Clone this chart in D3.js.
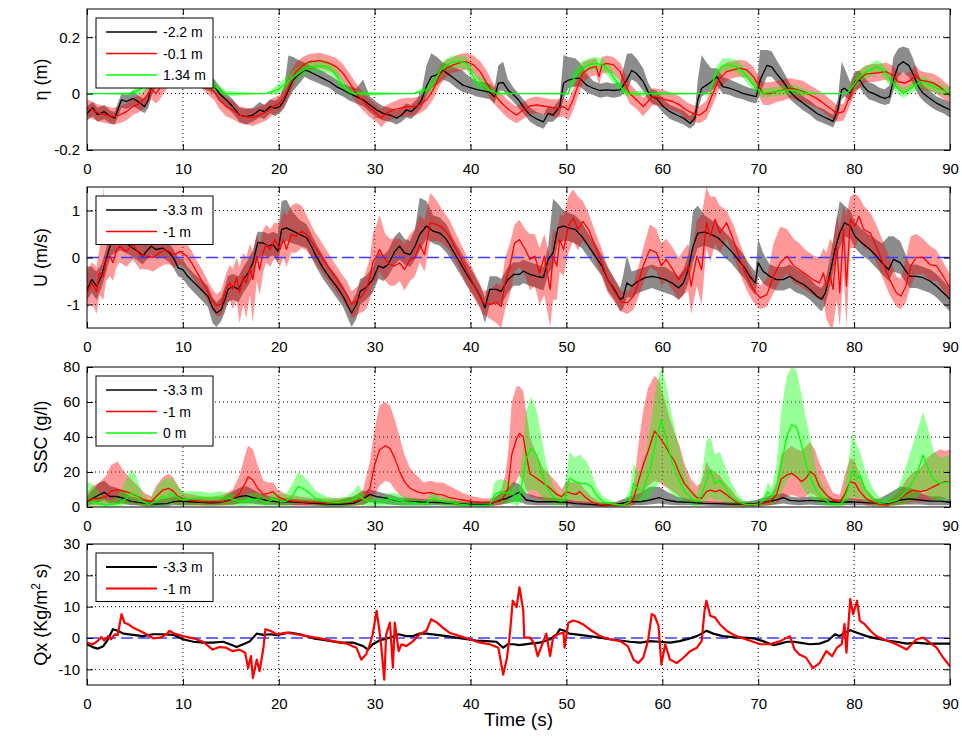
<!DOCTYPE html>
<html>
<head>
<meta charset="utf-8">
<script src="https://cdn.jsdelivr.net/npm/d3@7"></script>
<style>
  body { margin: 0; background: #fff; }
  svg { font-family: "Liberation Sans", Arial, Helvetica, sans-serif; }
</style>
</head>
<body>
<svg id="chart" width="962" height="744"></svg>
<script>
//
// data: [t, value, bandLow, bandHigh]
var etaBlack = [[0,-0.07,-0.095,-0.045],[0.6,-0.05,-0.08,-0.03],[1.1,-0.075,-0.1,-0.05],[1.8,-0.064,-0.09,-0.04],[2.4,-0.08,-0.105,-0.06],[2.9,-0.087,-0.11,-0.065],[3.2,-0.058,-0.085,-0.035],[3.6,-0.022,-0.05,0],[4.1,-0.028,-0.055,-0.005],[4.8,-0.017,-0.045,0.01],[5.3,-0.028,-0.055,-0.005],[6,-0.046,-0.07,-0.02],[6.4,-0.022,-0.05,0.01],[6.7,0.025,-0.01,0.06],[7.5,0.07,0.04,0.1],[9,0.09,0.06,0.12],[10.5,0.07,0.04,0.1],[12,0.045,0.02,0.075],[13.3,0.025,0,0.05],[13.8,0,-0.025,0.025],[14.5,-0.022,-0.045,0],[15.2,-0.046,-0.07,-0.02],[15.9,-0.076,-0.1,-0.05],[16.6,-0.082,-0.11,-0.055],[17.3,-0.076,-0.1,-0.05],[18,-0.058,-0.085,-0.03],[18.5,-0.064,-0.09,-0.04],[19.1,-0.046,-0.07,-0.02],[19.6,-0.052,-0.08,-0.025],[20.1,-0.046,-0.07,-0.015],[20.6,-0.022,-0.05,0.03],[21,0.013,-0.02,0.135],[21.5,0.048,0.01,0.13],[22,0.066,0.03,0.12],[22.7,0.084,0.06,0.11],[23.2,0.078,0.05,0.1],[23.9,0.066,0.04,0.09],[24.6,0.054,0.03,0.08],[25.3,0.042,0.02,0.065],[26,0.025,0,0.05],[26.7,0.013,-0.01,0.035],[27.4,0,-0.025,0.025],[28.1,-0.011,-0.035,0.02],[28.8,-0.022,-0.045,0.05],[29.5,-0.04,-0.065,-0.01],[30.2,-0.058,-0.085,-0.03],[30.9,-0.07,-0.095,-0.045],[31.6,-0.076,-0.1,-0.05],[32.3,-0.087,-0.11,-0.06],[32.8,-0.076,-0.1,-0.05],[33.3,-0.058,-0.085,-0.035],[33.8,-0.064,-0.09,-0.04],[34.4,-0.046,-0.07,-0.02],[34.9,-0.022,-0.05,0.01],[35.4,0.025,-0.01,0.1],[35.9,0.06,0.02,0.143],[36.5,0.066,0.03,0.13],[37.1,0.084,0.05,0.11],[37.8,0.066,0.04,0.1],[38.5,0.048,0.02,0.09],[39.2,0.03,0.005,0.08],[39.9,0.022,0,0.06],[40.6,0.015,-0.01,0.045],[41.3,0.01,-0.015,0.04],[42,0.004,-0.02,0.035],[42.5,-0.011,-0.035,0.02],[42.9,0.037,0.01,0.1],[43.4,0.039,0.01,0.113],[43.9,0.013,-0.01,0.05],[44.5,-0.005,-0.03,0.02],[45,-0.022,-0.05,0],[45.5,-0.046,-0.07,-0.02],[46.2,-0.076,-0.1,-0.05],[46.9,-0.09,-0.115,-0.065],[47.6,-0.1,-0.125,-0.075],[48.1,-0.07,-0.1,-0.045],[48.6,-0.076,-0.1,-0.05],[49.3,-0.046,-0.075,-0.02],[49.7,0.037,-0.02,0.137],[50.2,0.048,0.02,0.13],[50.9,0.054,0.025,0.125],[51.4,0.054,0.025,0.11],[52.1,0.03,0.005,0.07],[52.8,0.019,-0.005,0.045],[53.5,0.011,-0.015,0.035],[54.2,0.013,-0.01,0.04],[54.9,0.011,-0.015,0.035],[55.6,0.013,-0.01,0.04],[56.3,0.048,0.01,0.14],[56.8,0.082,0.05,0.143],[57.3,0.072,0.04,0.125],[58,0.043,0.01,0.09],[58.5,0.007,-0.02,0.04],[58.9,-0.011,-0.035,0.015],[59.4,-0.017,-0.04,0.01],[60.1,-0.046,-0.07,-0.02],[60.8,-0.064,-0.09,-0.04],[61.5,-0.076,-0.1,-0.05],[62.2,-0.087,-0.11,-0.06],[62.9,-0.105,-0.125,-0.08],[63.4,-0.087,-0.11,-0.06],[63.7,-0.022,-0.06,0.05],[64.1,0.019,-0.01,0.137],[64.6,0.03,0,0.11],[65.1,0.042,0.01,0.09],[65.7,0.06,0.03,0.09],[66.3,0.025,0,0.06],[67,0.019,-0.005,0.05],[67.7,0.011,-0.015,0.04],[68.4,0.001,-0.02,0.03],[69.1,-0.005,-0.03,0.02],[69.8,-0.011,-0.035,0.015],[70.2,0.048,0,0.155],[70.9,0.1,0.06,0.155],[71.4,0.095,0.06,0.15],[71.9,0.072,0.04,0.12],[72.6,0.043,0.015,0.08],[73.3,0.007,-0.02,0.035],[74,-0.017,-0.04,0.01],[74.7,-0.034,-0.06,-0.01],[75.4,-0.052,-0.075,-0.025],[76.1,-0.07,-0.095,-0.045],[76.8,-0.082,-0.105,-0.055],[77.5,-0.093,-0.115,-0.07],[77.8,-0.099,-0.12,-0.075],[78.3,-0.058,-0.085,-0.02],[78.7,0.013,-0.02,0.113],[79,0.019,-0.01,0.09],[79.6,0.001,-0.025,0.04],[80.1,0.043,0.01,0.08],[80.6,0.048,0.02,0.08],[81,0.025,0,0.06],[81.5,0.007,-0.02,0.04],[82,0.001,-0.025,0.035],[82.7,-0.011,-0.035,0.02],[83.2,-0.017,-0.04,0.015],[83.7,-0.011,-0.035,0.03],[84.1,0.048,0.01,0.13],[84.6,0.1,0.06,0.16],[85.1,0.113,0.075,0.167],[85.7,0.1,0.06,0.16],[86.2,0.066,0.03,0.12],[86.7,0.025,-0.005,0.07],[87.2,0.001,-0.025,0.03],[87.9,-0.017,-0.045,0.01],[88.6,-0.034,-0.06,-0.01],[89.3,-0.046,-0.07,-0.02],[90,-0.058,-0.085,-0.03]];

var etaRed = [[0,-0.052,-0.08,-0.02],[0.6,-0.058,-0.09,-0.03],[1.3,-0.07,-0.1,-0.04],[2,-0.076,-0.105,-0.045],[2.7,-0.082,-0.11,-0.05],[3.4,-0.076,-0.105,-0.045],[4.1,-0.064,-0.095,-0.035],[4.8,-0.046,-0.075,-0.015],[5.5,-0.034,-0.065,-0.005],[6.2,-0.01,-0.045,0.02],[6.7,0.015,-0.02,0.045],[7.2,0,-0.035,0.03],[7.6,0.02,-0.02,0.06],[9,0.08,0.05,0.11],[11,0.08,0.05,0.11],[12.5,0.03,0,0.06],[13.3,0.005,-0.025,0.035],[13.8,-0.022,-0.055,0.01],[14.5,-0.046,-0.08,-0.015],[15.2,-0.058,-0.09,-0.025],[15.9,-0.076,-0.105,-0.045],[16.6,-0.082,-0.11,-0.05],[17.3,-0.085,-0.115,-0.055],[18,-0.076,-0.105,-0.045],[18.7,-0.064,-0.095,-0.035],[19.4,-0.046,-0.075,-0.015],[20.1,-0.034,-0.065,-0.005],[20.6,-0.01,-0.04,0.025],[21.1,0.03,-0.005,0.07],[21.8,0.078,0.045,0.11],[22.5,0.1,0.07,0.13],[23.2,0.113,0.085,0.14],[24.3,0.117,0.09,0.145],[25.3,0.107,0.08,0.135],[26,0.095,0.065,0.125],[26.7,0.072,0.04,0.105],[27.4,0.037,0.005,0.07],[28.1,0,-0.035,0.035],[28.8,-0.028,-0.06,0.005],[29.5,-0.052,-0.085,-0.02],[30.2,-0.07,-0.1,-0.04],[30.7,-0.087,-0.12,-0.055],[31.2,-0.07,-0.1,-0.04],[31.9,-0.058,-0.09,-0.03],[32.6,-0.052,-0.085,-0.02],[33.3,-0.046,-0.08,-0.015],[34,-0.046,-0.08,-0.015],[34.7,-0.04,-0.07,-0.01],[35.4,-0.022,-0.055,0.01],[36.1,0.013,-0.02,0.05],[36.8,0.066,0.03,0.1],[37.5,0.09,0.06,0.12],[38.2,0.102,0.075,0.13],[38.9,0.11,0.08,0.14],[39.6,0.113,0.085,0.145],[40.3,0.102,0.07,0.135],[41,0.078,0.04,0.115],[41.7,0.037,0,0.08],[42.4,0,-0.035,0.035],[43.1,-0.028,-0.06,0.005],[43.8,-0.052,-0.085,-0.02],[44.5,-0.07,-0.1,-0.04],[44.8,-0.076,-0.105,-0.045],[45.5,-0.058,-0.09,-0.03],[46.2,-0.044,-0.075,-0.015],[46.9,-0.04,-0.07,-0.01],[47.6,-0.044,-0.075,-0.015],[48.3,-0.048,-0.08,-0.02],[49,-0.052,-0.085,-0.02],[49.7,-0.046,-0.08,-0.015],[50.2,-0.058,-0.095,-0.025],[50.7,-0.022,-0.06,0.015],[51.2,0.03,-0.01,0.07],[51.7,0.072,0.035,0.11],[52.4,0.09,0.06,0.12],[53.1,0.096,0.065,0.125],[53.4,0.06,0.03,0.1],[53.7,0.102,0.07,0.13],[54.2,0.107,0.075,0.135],[54.9,0.102,0.07,0.13],[55.6,0.078,0.045,0.11],[56.1,0.037,0,0.075],[56.6,0,-0.035,0.035],[57.3,-0.022,-0.055,0.01],[58,-0.046,-0.08,-0.015],[58.5,-0.028,-0.06,0],[59,-0.01,-0.04,0.02],[59.7,-0.016,-0.045,0.015],[60.4,-0.022,-0.05,0.01],[61.1,-0.028,-0.06,0],[61.8,-0.04,-0.07,-0.01],[62.5,-0.058,-0.09,-0.03],[63.2,-0.07,-0.1,-0.04],[63.9,-0.076,-0.105,-0.045],[64.6,-0.058,-0.09,-0.025],[65,-0.022,-0.06,0.015],[65.5,0.019,-0.02,0.06],[66,0.054,0.02,0.09],[66.7,0.078,0.045,0.11],[67.4,0.084,0.055,0.115],[68.1,0.09,0.06,0.12],[68.8,0.084,0.055,0.115],[69.5,0.06,0.025,0.095],[70,0.03,-0.005,0.065],[70.5,0,-0.04,0.04],[71.2,0,-0.04,0.04],[71.9,0.007,-0.03,0.045],[72.6,0.013,-0.025,0.05],[73.3,0.019,-0.015,0.055],[74,0.015,-0.02,0.05],[74.7,0.007,-0.03,0.045],[75.4,-0.005,-0.04,0.03],[76.1,-0.017,-0.05,0.015],[76.8,-0.034,-0.065,0],[77.5,-0.052,-0.085,-0.02],[78.2,-0.07,-0.1,-0.04],[78.9,-0.064,-0.095,-0.035],[79.4,-0.022,-0.055,0.01],[79.9,0.019,-0.015,0.055],[80.4,0.048,0.015,0.08],[81.2,0.069,0.04,0.1],[81.9,0.072,0.04,0.105],[82.6,0.074,0.045,0.105],[83.3,0.078,0.05,0.11],[84,0.066,0.035,0.1],[84.6,0.042,0.01,0.075],[85.3,0.037,0.005,0.07],[85.9,0.048,0.015,0.08],[86.4,0.066,0.035,0.1],[86.9,0.048,0.015,0.08],[87.6,0.043,0.01,0.075],[88.3,0.037,0.005,0.07],[89,0.022,-0.01,0.055],[90,-0.005,-0.035,0.025]];

var etaGreen = [[0,0,0,0],[4.5,0,-0.005,0.005],[5.5,0.015,-0.005,0.035],[7,0.05,0.03,0.07],[9,0.09,0.07,0.11],[11,0.08,0.06,0.1],[13.3,0.025,0.005,0.045],[14.5,0,-0.01,0.01],[18.7,0,0,0],[19.8,0.013,-0.005,0.03],[20.8,0.037,0.015,0.06],[21.8,0.066,0.045,0.09],[22.9,0.09,0.07,0.115],[23.9,0.098,0.075,0.12],[25,0.096,0.075,0.12],[25.7,0.078,0.055,0.1],[26.4,0.043,0.02,0.065],[27.1,0.013,-0.005,0.03],[27.8,0,-0.01,0.01],[34,0,0,0],[35.4,0.013,-0.005,0.03],[36.1,0.037,0.015,0.06],[36.8,0.078,0.055,0.1],[37.5,0.102,0.08,0.125],[38.2,0.113,0.09,0.135],[38.9,0.113,0.09,0.135],[39.6,0.107,0.085,0.13],[40.1,0.072,0.05,0.095],[40.6,0.043,0.02,0.065],[41.3,0.031,0.01,0.055],[42,0.013,-0.005,0.03],[42.7,0.001,-0.01,0.01],[44.5,0,0,0],[50.2,0,-0.005,0.005],[50.5,0.037,0.015,0.06],[51,0.066,0.045,0.09],[51.6,0.09,0.065,0.115],[52.3,0.102,0.08,0.125],[53.1,0.107,0.085,0.13],[53.8,0.102,0.08,0.125],[54.5,0.078,0.055,0.1],[55.2,0.043,0.02,0.065],[55.9,0.013,-0.005,0.03],[56.4,0,-0.01,0.01],[65,0,0,0],[65.1,0.025,0.005,0.045],[65.7,0.078,0.055,0.1],[66.3,0.1,0.08,0.125],[67,0.1,0.08,0.125],[67.7,0.096,0.075,0.12],[68.4,0.078,0.055,0.1],[69.1,0.048,0.025,0.07],[69.8,0.019,0,0.04],[70.5,0.001,-0.015,0.02],[71.2,0.004,-0.012,0.02],[71.9,0.007,-0.01,0.025],[73,0.013,-0.005,0.03],[74,0.011,-0.005,0.03],[75,0.001,-0.01,0.012],[76.1,0,0,0],[79.2,0,0,0],[79.6,0.013,-0.005,0.03],[80.3,0.048,0.025,0.07],[81,0.072,0.05,0.095],[81.7,0.084,0.06,0.105],[82.4,0.096,0.075,0.12],[83,0.084,0.06,0.105],[83.7,0.054,0.03,0.075],[84.4,0.025,0.005,0.045],[85.1,0.001,-0.015,0.02],[85.7,0.013,-0.005,0.03],[86.4,0.031,0.01,0.05],[87.1,0.043,0.02,0.065],[87.9,0.031,0.01,0.05],[88.6,0.019,0,0.04],[89.3,0.011,-0.005,0.03],[90,0.001,-0.015,0.02]];

var uBlack = [[0,-0.68,-0.9,-0.18],[0.5,-0.47,-0.75,-0.2],[1,-0.61,-0.9,-0.3],[1.5,-0.4,-0.65,-0.15],[1.8,-0.18,-0.45,0.05],[2.2,0.1,-0.15,0.35],[2.5,0.31,0.05,0.55],[3.5,0.4,0.15,0.65],[4.5,0.24,0.05,0.5],[5,0.17,-0.02,0.4],[5.5,0.1,-0.1,0.3],[5.8,0.03,-0.15,0.25],[6.2,0.13,-0.05,0.35],[6.7,0.24,0.05,0.45],[7.2,0.17,-0.02,0.4],[7.9,0.2,0,0.42],[8.6,0.1,-0.1,0.3],[9.1,-0.04,-0.25,0.15],[9.5,-0.22,-0.4,0],[10,-0.26,-0.45,-0.05],[10.5,-0.4,-0.6,-0.2],[11.2,-0.54,-0.75,-0.35],[11.9,-0.68,-0.9,-0.48],[12.6,-0.82,-1.05,-0.6],[13.1,-1.07,-1.4,-0.85],[13.5,-1.18,-1.48,-0.95],[14,-1.11,-1.35,-0.85],[14.4,-0.89,-1.15,-0.6],[14.7,-0.68,-0.95,-0.4],[15.2,-0.61,-0.9,-0.35],[15.8,-0.68,-0.95,-0.4],[16.3,-0.47,-0.75,-0.2],[16.8,-0.33,-0.6,-0.05],[17.3,-0.11,-0.4,0.15],[17.8,0.31,0,0.55],[18.4,0.31,0.05,0.55],[18.9,0.24,0,0.5],[19.4,0.28,0.05,0.55],[19.9,0.13,-0.1,0.5],[20.3,0.6,0.3,1.2],[20.8,0.63,0.35,1.23],[21.5,0.56,0.3,0.95],[22.2,0.49,0.25,0.8],[22.9,0.42,0.2,0.7],[23.4,0.24,0,0.5],[23.9,0.03,-0.2,0.3],[24.6,-0.22,-0.45,0.05],[25.3,-0.43,-0.65,-0.2],[26,-0.61,-0.85,-0.38],[26.7,-0.82,-1.05,-0.6],[27.2,-1.03,-1.3,-0.8],[27.6,-1.18,-1.48,-0.95],[28.1,-1,-1.3,-0.75],[28.5,-0.72,-1,-0.45],[29.1,-0.64,-0.9,-0.4],[29.8,-0.47,-0.75,-0.2],[30.4,-0.18,-0.45,0.1],[30.9,-0.22,-0.5,0.05],[31.4,-0.15,-0.4,0.15],[32.1,0.13,-0.15,0.45],[32.6,0.24,-0.05,0.55],[33.1,0.1,-0.15,0.4],[33.7,0.06,-0.2,0.35],[34.2,0.24,-0.05,0.6],[34.7,0.49,0.15,1.27],[35.4,0.67,0.4,1.2],[36.1,0.56,0.3,0.9],[36.8,0.52,0.25,0.85],[37.5,0.38,0.1,0.7],[38.2,0.13,-0.12,0.4],[38.9,-0.11,-0.35,0.15],[39.6,-0.36,-0.6,-0.1],[40.3,-0.57,-0.8,-0.33],[41,-0.82,-1.05,-0.6],[41.5,-1.07,-1.4,-0.85],[42,-0.68,-1,-0.4],[42.7,-0.68,-0.95,-0.4],[43.2,-0.72,-1,-0.45],[43.9,-0.47,-0.75,-0.2],[44.5,-0.36,-0.6,-0.1],[45.1,-0.36,-0.6,-0.1],[45.5,-0.29,-0.55,-0.05],[46.2,-0.36,-0.6,-0.1],[46.9,-0.4,-0.65,-0.15],[47.6,-0.43,-0.7,-0.2],[48.1,-0.04,-0.35,0.25],[48.6,0.1,-0.2,1.25],[49.1,0.63,0.3,1.15],[49.7,0.67,0.35,1],[50.2,0.63,0.35,0.95],[50.9,0.6,0.3,0.9],[51.6,0.45,0.2,0.75],[52.3,0.24,0,0.5],[53,0.03,-0.2,0.3],[53.7,-0.18,-0.4,0.05],[54.3,-0.47,-0.7,-0.2],[55,-0.68,-0.9,-0.45],[55.6,-0.89,-1.15,-0.65],[55.9,-0.86,-1.1,-0.4],[56.3,-0.54,-0.85,0.05],[56.8,-0.61,-0.85,-0.3],[57.5,-0.5,-0.75,-0.25],[58.2,-0.43,-0.7,-0.2],[58.9,-0.4,-0.65,-0.15],[59.6,-0.43,-0.7,-0.2],[60.3,-0.47,-0.75,-0.2],[61,-0.54,-0.8,-0.3],[61.7,-0.65,-0.9,-0.4],[62.2,-0.54,-0.8,-0.25],[62.7,-0.26,-0.55,0.05],[63.2,0.24,-0.1,1],[63.7,0.52,0.2,1.1],[64.4,0.54,0.25,0.9],[65.1,0.49,0.2,0.8],[65.8,0.42,0.15,0.7],[66.5,0.28,0,0.55],[67.2,0.13,-0.12,0.4],[67.9,-0.04,-0.3,0.22],[68.6,-0.22,-0.45,0.02],[69.1,-0.4,-0.65,-0.15],[69.7,-0.54,-0.8,-0.3],[70,-0.11,-0.4,0.4],[70.5,-0.29,-0.55,0.1],[71.2,-0.4,-0.65,-0.15],[71.9,-0.47,-0.7,-0.2],[72.6,-0.47,-0.7,-0.2],[73.3,-0.4,-0.65,-0.15],[74,-0.5,-0.75,-0.25],[74.7,-0.57,-0.8,-0.33],[75.4,-0.68,-0.9,-0.45],[76.1,-0.82,-1.05,-0.6],[76.6,-0.89,-1.15,-0.65],[77,-0.75,-1,-0.5],[77.5,-0.33,-0.6,0],[78,0.17,-0.15,0.6],[78.5,0.52,0.2,1.2],[79,0.74,0.45,1.1],[79.6,0.67,0.4,1],[80.1,0.45,0.2,0.75],[80.8,0.31,0.05,0.6],[81.5,0.2,-0.05,0.5],[82.2,0.06,-0.2,0.4],[82.9,-0.11,-0.35,0.3],[83.6,-0.26,-0.5,0.45],[84.1,-0.04,-0.3,0.45],[84.8,-0.11,-0.35,0.35],[85.3,-0.26,-0.5,0.1],[85.8,-0.4,-0.65,-0.15],[86.5,-0.4,-0.65,-0.15],[87.2,-0.43,-0.7,-0.2],[87.9,-0.5,-0.75,-0.25],[88.6,-0.61,-0.85,-0.35],[89.3,-0.75,-1,-0.5],[90,-0.89,-1.15,-0.65]];

var uRed = [[0,-0.75,-1.1,-0.3],[0.5,-0.54,-0.95,-0.1],[1,-0.72,-1.2,-0.2],[1.3,-0.33,-0.8,0.2],[1.7,-0.4,-0.9,1.5],[2,-0.04,-0.5,0.4],[2.4,0.03,-0.4,0.5],[2.7,-0.11,-0.5,0.4],[3.1,0.17,-0.2,0.6],[3.4,0.24,-0.1,0.6],[4.1,0.13,-0.2,0.5],[4.8,0.28,-0.05,0.6],[5.5,0.06,-0.25,0.4],[6.2,0.03,-0.25,0.35],[6.9,0,-0.3,0.3],[7.6,0.1,-0.2,0.4],[8.1,0.17,-0.15,0.45],[8.6,0.13,-0.15,0.4],[9.1,0.06,-0.2,0.35],[9.7,0.13,-0.15,0.4],[10.4,0.03,-0.25,0.3],[10.9,-0.11,-0.4,0.15],[11.4,-0.29,-0.55,-0.05],[11.9,-0.47,-0.7,-0.22],[12.5,-0.68,-0.9,-0.45],[13,-0.89,-1.1,-0.65],[13.5,-1.02,-1.25,-0.78],[14,-1,-1.25,-0.7],[14.5,-0.68,-1,-0.35],[14.9,-0.54,-0.9,-0.15],[15.2,-0.68,-1.1,-0.25],[15.6,-0.43,-0.9,0],[15.9,-0.75,-1.4,-0.2],[16.3,-0.4,-1,0.1],[16.6,-0.54,-1.3,0],[17,-0.22,-0.8,0.3],[17.3,-0.47,-1.4,0.1],[17.7,0.03,-0.5,0.5],[18,-0.26,-0.8,0.3],[18.4,0.13,-0.3,0.6],[18.7,0.28,-0.1,0.7],[19.1,0.17,-0.2,0.6],[19.6,0.38,0,0.75],[20.1,0.17,-0.2,0.7],[20.5,0.38,0,1],[20.8,0.17,-0.2,0.9],[21.3,0.49,0.1,1.1],[21.8,0.45,0.1,1.16],[22.4,0.56,0.2,1.1],[22.9,0.49,0.15,0.9],[23.6,0.28,-0.05,0.6],[24.3,0.06,-0.25,0.38],[25,-0.15,-0.45,0.15],[25.7,-0.36,-0.65,-0.08],[26.4,-0.57,-0.85,-0.3],[27.1,-0.79,-1.05,-0.5],[27.6,-1,-1.3,-0.72],[28.3,-0.89,-1.2,-0.6],[28.8,-0.79,-1.15,-0.45],[29.1,-0.68,-1.1,-0.3],[29.5,-0.43,-0.9,0],[29.8,-0.11,-0.6,0.5],[30.2,0.03,-0.5,0.7],[30.5,0.17,-0.3,0.9],[31.1,-0.04,-0.5,0.5],[31.6,-0.15,-0.6,0.4],[32.1,-0.18,-0.6,0.4],[32.6,-0.11,-0.5,0.4],[33.1,-0.26,-0.7,0.3],[33.7,-0.04,-0.5,0.5],[34.2,0,-0.4,0.6],[34.7,0.28,-0.1,0.9],[35.2,0.06,-0.3,0.8],[35.8,0.74,0.35,1.38],[36.5,0.7,0.35,1.2],[37.1,0.63,0.3,1],[37.8,0.45,0.15,0.8],[38.5,0.17,-0.12,0.5],[39.2,-0.11,-0.4,0.2],[39.9,-0.4,-0.7,-0.1],[40.6,-0.68,-0.95,-0.4],[41.3,-0.96,-1.2,-0.7],[42,-1,-1.3,-0.7],[42.7,-0.96,-1.4,-0.55],[43.2,-1.04,-1.5,-0.6],[43.6,-0.54,-1.1,0],[44.1,-0.18,-0.8,0.3],[44.6,0.31,-0.3,0.7],[45.1,0.38,-0.2,0.8],[45.7,0.17,-0.4,0.6],[46.2,-0.04,-0.7,0.5],[46.7,0.03,-0.6,0.5],[47.2,-0.33,-1,0.2],[47.7,0.03,-0.8,0.5],[48.3,-0.68,-1.48,0],[48.6,0.03,-0.9,0.6],[49,-0.18,-0.9,0.5],[49.3,0.38,-0.3,0.9],[49.7,0.17,-0.4,0.9],[50.2,0.67,0.1,1.3],[50.7,0.84,0.35,1.45],[51.2,0.6,0.15,1.3],[51.7,0.77,0.35,1.2],[52.3,0.6,0.25,0.95],[53,0.24,-0.05,0.55],[53.7,-0.11,-0.4,0.18],[54.3,-0.47,-0.75,-0.2],[55,-0.72,-0.95,-0.45],[55.7,-0.95,-1.15,-0.72],[56.4,-0.96,-1.2,-0.72],[57,-0.82,-1.1,-0.55],[57.5,-0.54,-0.85,-0.2],[58,-0.18,-0.55,0.2],[58.7,0.17,-0.2,0.7],[59.4,0.1,-0.3,0.6],[59.9,-0.18,-0.6,0.3],[60.4,-0.04,-0.5,0.4],[61.1,-0.26,-0.7,0.2],[61.7,-0.47,-0.9,0],[62.2,-0.33,-0.8,0.15],[62.7,-0.18,-0.7,0.3],[63,-0.61,-1.2,0],[63.6,0.03,-0.6,0.8],[64.1,-0.26,-1,0.9],[64.6,0.74,0.2,1.5],[65,0.45,-0.1,1.3],[65.5,0.81,0.3,1.3],[66,0.52,0.1,1.1],[66.7,0.74,0.4,1],[67.4,0.38,0.05,0.7],[68.1,-0.04,-0.35,0.3],[68.8,-0.4,-0.7,-0.1],[69.5,-0.68,-0.95,-0.4],[70.2,-0.86,-1.1,-0.6],[70.9,-0.79,-1.05,-0.45],[71.6,-0.4,-0.75,0.3],[72.3,-0.11,-0.5,0.66],[73,0.03,-0.35,0.6],[73.7,-0.18,-0.55,0.4],[74.3,-0.26,-0.6,0.3],[75,-0.36,-0.7,0.15],[75.7,-0.47,-0.8,0.05],[76.4,-0.54,-0.9,0],[76.8,-0.33,-0.9,0.2],[77.1,-0.61,-1.3,0.1],[77.5,-0.4,-1.48,0.4],[77.8,-0.68,-1.48,0.3],[78.2,0.24,-0.9,0.9],[78.5,-0.75,-1.48,0.6],[78.9,0.6,-0.3,1.1],[79.2,-0.61,-1.48,0.9],[79.6,0.81,0.2,1.3],[80.1,0.67,0.2,1.35],[80.5,0.88,0.4,1.3],[81,0.6,0.2,1.1],[81.7,0.52,0.15,0.95],[82.3,0.24,-0.1,0.7],[83,-0.11,-0.45,0.35],[83.7,-0.47,-0.8,0],[84.4,-0.75,-1.05,-0.4],[84.9,-0.82,-1.1,-0.45],[85.4,-0.61,-0.95,0],[85.9,-0.18,-0.6,0.45],[86.5,0,-0.35,0.5],[87.2,0,-0.35,0.4],[87.9,-0.15,-0.5,0.25],[88.6,-0.18,-0.5,0.15],[89.3,-0.4,-0.7,-0.1],[90,-0.65,-0.95,-0.35]];

var sscBlack = [[0,3,1,6],[0.6,5,2,10],[1.3,7,3,14],[1.8,8.4,4,15],[2.4,6,2,12],[3.1,6,2,11],[3.8,5,2,9],[4.5,3.4,1,6],[5.3,2.7,1,5],[6.2,2.1,0.5,4],[7.2,1.7,0.5,4],[8.3,1.9,0.5,5],[9,3,1,6],[9.7,3.4,1,6],[10.7,3,1,5],[11.8,2.7,1,4.5],[12.9,2.3,0.8,4],[13.8,2.5,1,4.5],[14.9,4,1.5,8],[15.9,6,2,11],[16.6,6.5,2,12],[17.3,5.3,2,10],[18,4.6,1.5,8],[19.1,3.4,1,6],[20.1,2.9,1,5],[21.1,3,1,5],[22.2,2.7,1,4.5],[23.6,2.1,0.8,4],[25,1.7,0.5,3.5],[26.4,1.5,0.5,4],[27.8,2.1,0.8,6],[28.8,4.6,1.5,9],[29.5,7.2,3,10],[30.2,5.9,2,9],[30.9,5.3,2,8],[31.6,4.6,1.5,7],[32.6,3.4,1,5.5],[34,3,1,5],[35.4,2.7,1,4.5],[36.8,2.5,1,4],[38.2,2.1,0.8,3.5],[39.6,1.7,0.5,3],[41,1.5,0.5,3],[42,1.7,0.5,3.5],[43.1,4,1.5,8],[43.8,4.9,2,10],[44.5,6.9,3,14.5],[45.1,8.4,3,13],[45.8,4,1.5,8],[46.9,3,1,6],[47.9,3,1,5.5],[48.9,3,1,5],[50,2.7,1,4.5],[51,1.9,0.5,3.5],[52.4,1.5,0.5,3],[53.8,1.1,0.3,2.5],[55.2,1.5,0.5,3],[56.6,3,1,6],[57.7,3,1,8],[58.7,4,1.5,11.6],[59.7,5.3,2,11.6],[60.4,4,1.5,9],[61.5,3,1,6],[62.9,2.7,1,4.5],[64.3,2.1,0.8,3.5],[65.7,1.9,0.5,3],[67,1.7,0.5,3],[68.4,1.7,0.5,3],[69.8,2.1,0.8,4],[70.9,3,1,6],[71.9,4,1.5,7],[72.6,5.3,2,8],[73.3,3.8,1.5,6],[74.3,3.4,1,5.5],[75.4,3.8,1.5,6],[76.4,3.4,1,5.5],[77.5,3,1,5],[78.5,2.7,1,4.5],[79.6,3,1,5],[80.6,2.7,1,4.5],[81.7,2.3,0.8,4],[82.7,2.1,0.8,5],[83.7,2.1,0.8,8],[84.8,4,1.5,11.6],[85.8,4.6,1.5,11],[86.9,4,1.5,8],[87.9,3.4,1,6],[89,3.4,1,6],[90,2.7,1,4.5]];

var sscRed = [[0,3,0.5,8],[0.6,4.6,1,12],[1.3,5,1,14],[2,5.9,1,18],[2.5,9.1,2,24],[3.2,9.9,2,26],[3.9,9.1,2,20],[4.6,7.8,2,16],[5.3,5.9,1,12],[6,4,0.5,8],[6.7,3,0.5,6],[7.2,5.9,1,12],[7.9,9.7,2,17],[8.5,10.7,3,19],[9,9.1,2,17],[9.5,5.9,1,12],[10,4.4,1,8],[11.1,3.6,1,7],[12.1,3,0.8,6],[13.1,3,0.8,6],[14.2,3,0.8,7],[15.2,4.6,1,10],[15.9,7.8,2,18],[16.5,13.5,4,30],[16.8,17.3,6,35],[17.3,15.4,5,33],[17.8,10.7,3,24],[18.4,7.2,2,15],[18.9,7.8,2,14],[19.4,8.8,2,14],[19.9,5.9,1.5,10],[20.8,3.8,1,7],[22.2,3,0.8,6],[23.6,2.7,0.8,5],[25,2.5,0.5,5],[26.4,2.5,0.5,5],[27.8,3,0.8,6],[28.8,4.6,1,10],[29.5,10.7,3,26],[30,24,7,45],[30.5,32.6,12,58],[31.1,35,15,60],[31.6,33.5,14,58],[32.1,27.8,10,50],[32.6,20.2,7,40],[33.1,14.5,5,30],[33.7,10.7,3,22],[34.4,8.8,2.5,18],[35.1,7.8,2,14],[35.8,8.4,2.5,15],[36.5,7.2,2,14],[37.1,6.9,2,14],[37.8,5.3,1.5,12],[38.5,4.6,1,10],[39.2,4,1,8],[40.3,3,0.8,6],[41.3,2.7,0.8,5],[42.4,2.7,0.8,5],[43.1,3.4,1,8],[43.6,6.9,2,18],[43.9,10.7,3,30],[44.3,30,10,60],[44.8,39,15,69],[45.1,42,18,69],[45.5,40,15,66],[45.8,30,10,55],[46.2,19,6,40],[46.9,16.4,5,30],[47.6,13.5,4,22],[48.3,10.7,3,18],[49,7.2,2,14],[49.5,5.9,1.5,10],[50,8.8,2,15],[50.5,7.8,2,14],[51,7.2,2,14],[51.4,8.8,2,14],[51.9,5.9,1.5,10],[52.6,3,0.8,6],[53.5,1.5,0.3,3],[54.5,1.1,0.2,2.5],[55.6,1.1,0.2,2.5],[56.6,2.1,0.5,4],[57,4.9,1,12],[57.5,14.5,4,35],[58,24,8,55],[58.5,31.6,12,68],[59.2,43.4,15,75],[59.7,40,14,72],[60.2,36,12,62],[60.8,30,10,50],[61.3,26,8,42],[61.8,19,6,35],[62.3,13.5,4,25],[63,8.8,2,16],[63.6,5.3,1.5,12],[64.1,4.9,1.5,14],[64.6,8.8,2,26],[65,9.7,2.5,22],[65.5,8.8,2,20],[66,9.7,2.5,18],[66.5,7.8,2,14],[67.2,4.9,1,10],[67.7,3,0.5,6],[68.4,1.5,0.3,3],[69.5,1.1,0.2,2.5],[70.5,2.1,0.5,4],[71.2,3,0.8,6],[71.9,6.9,2,14],[72.4,16,5,30],[73,18.3,6,33],[73.5,19.2,7,35],[74,17.3,6,33],[74.5,14.5,5,32],[75,16.4,6,35],[75.4,20.2,8,37],[75.9,18.3,7,33],[76.4,11.6,4,25],[77.1,6.9,2,16],[77.8,4,1,8],[78.5,3,0.8,7],[79,6.9,2,18],[79.6,14.5,4,28],[80.1,13.5,4,26],[80.6,8.8,2.5,18],[81.3,4.6,1,10],[82,2.7,0.5,6],[82.7,1.5,0.3,3],[83.4,1.1,0.2,2.5],[84.1,3,0.8,6],[84.8,4.6,1,10],[85.5,7.8,2,16],[86.2,9.7,3,20],[86.9,8.8,3,22],[87.6,9.7,3,28],[88.3,11.6,4,31],[89,13.5,5,33],[89.5,14.5,5,32],[90,14.5,5,33]];

var sscGreen = [[0,2,0.5,14.5],[0.6,3,0.5,13],[1.3,2,0.3,8],[2,1.1,0.2,4],[2.7,1.5,0.3,4],[3.4,2.1,0.5,8],[4.1,5,1,16],[4.6,7.8,2,22],[5.1,6.9,1.5,18],[5.8,3,0.5,8],[6.5,1.5,0.3,4],[7.2,3,0.5,10],[7.8,5.9,1,15],[8.3,5.3,1,16],[8.8,7.8,2,17],[9.3,5.9,1,13],[10,4,0.8,9],[10.7,4.6,1,9],[11.8,5.3,1,9],[12.8,4.9,1,8],[13.8,5.3,1,9],[14.9,4.9,1,8],[15.9,3,0.5,6],[17,4,0.8,8],[18,4.6,1,8],[18.7,2.1,0.5,5],[19.4,4.9,1,9],[20.1,3,0.5,7],[20.8,3.4,0.8,8],[21.5,6.9,1.5,14],[22,11.6,3,20],[22.5,10.7,3,18],[23.2,7.8,2,14],[23.9,4.6,1,9],[25,3,0.5,6],[26,2.7,0.5,5],[27.1,3,0.5,6],[27.8,4,0.8,9],[28.3,6.9,1.5,13],[28.8,4.6,1,8],[29.5,3,0.5,6],[30.2,2.7,0.5,5],[30.9,3.4,0.8,6],[31.6,4.9,1,8],[32.3,4,0.8,8],[33.1,3,0.5,6],[34,2.7,0.5,5],[34.7,2.1,0.5,4],[35.4,2.1,0.5,4],[36.1,4.9,1,9],[36.8,3.4,0.8,6],[37.8,2.7,0.5,5],[38.9,1.7,0.3,3],[39.9,1.1,0.2,2.5],[41,0.9,0.2,2],[42,1.1,0.2,2.5],[42.5,6.9,1.5,14],[43.1,8.8,2,16],[43.8,7.8,2,15],[44.1,8.8,2,15],[44.6,6.9,1.5,12],[44.9,3,0.5,8],[45.3,10.7,3,25],[45.8,27.8,8,55],[46.3,33.5,10,63],[46.9,29.7,9,55],[47.4,20,6,40],[47.9,11.6,3,25],[48.6,5.9,1.5,12],[49.3,3.4,0.8,7],[49.8,4,1,10],[50.3,16.4,4,31.6],[50.9,14.5,4,28],[51.4,13.5,3.5,30],[52.1,13.5,3.5,26],[52.6,11.6,3,20],[53.1,6.9,1.5,12],[53.8,3,0.5,6],[54.9,1.5,0.3,3],[55.9,1.1,0.2,2.5],[56.6,3,0.5,10],[57,13.5,3,25],[57.5,9.7,2,20],[58,9.7,2,22],[58.7,21,6,45],[59.4,39,12,70],[59.9,50,15,80],[60.4,39,12,70],[60.9,27.8,8,55],[61.5,18.3,5,40],[62,12.5,3,28],[62.5,7.8,2,18],[63,4.9,1,11],[63.6,3,0.5,7],[64.1,6.9,1.5,18],[64.6,14.9,4,38],[65,21,6,40],[65.5,13.5,3.5,30],[66,15.4,4,31.6],[66.5,11.6,3,24],[67.2,5.9,1.5,14],[67.9,3,0.5,7],[68.7,1.5,0.3,3],[69.8,1.5,0.3,3],[70.5,3,0.5,6],[71,8.8,2,14],[71.4,5.9,1.5,11],[71.9,10.7,3,24],[72.4,24,8,55],[73,41,15,75],[73.5,47,18,80],[74,45.5,17,78],[74.5,36,12,65],[75,24,8,50],[75.6,14.5,4,35],[76.1,8.8,2.5,20],[76.8,4.9,1,12],[77.5,2.1,0.5,5],[78.4,1.5,0.3,3],[78.9,3,0.5,8],[79.4,10.7,3,25],[79.8,21,6,43],[80.3,16.4,5,35],[80.6,18.3,5,32],[81.1,10.7,3,22],[81.9,4.6,1,11],[82.7,2.1,0.5,5],[83.6,2.7,0.5,6],[84.5,4,1,10],[85.1,6.9,1.5,18],[85.8,11.6,3,30],[86.5,18.3,5,42],[87.2,29.7,9,54.5],[87.7,22,6,45],[88.3,15.4,4,32],[89,13.5,3.5,28],[90,14.5,4,30]];

// Qx: [t, value]
var qxBlack = [[0,-2],[0.6,-2.9],[1.1,-3.4],[1.7,-2.6],[2.2,-0.4],[2.7,2.8],[3.2,2.3],[3.8,1.4],[4.8,1],[5.8,0.6],[6.9,1.2],[7.9,1.2],[9,1],[10,-0.4],[11.1,-1.2],[12.1,-1.5],[13.1,-1.5],[14.2,-1.2],[14.9,-2],[15.6,-2.9],[16.3,-2],[17,-1],[17.7,1.4],[18.4,1],[19.1,1.2],[19.8,0.9],[20.5,1.4],[21.1,1.7],[22.2,1.2],[23.6,-0.1],[25,-0.8],[26.4,-1.5],[27.8,-1.5],[28.8,-2.6],[29.3,-3.7],[29.8,-2],[30.5,-0.8],[31.6,0.1],[32.5,1.2],[33.3,0.6],[34,0.6],[34.7,1.4],[35.4,1.4],[36.5,1],[37.5,0.6],[38.5,0.1],[39.6,-0.4],[40.6,-0.8],[41.7,-1],[42.7,-1.2],[43.4,-3.1],[43.9,-2],[44.5,-2],[45.1,-2.3],[46.2,-1.8],[47.2,-1.5],[48.3,-0.4],[49,1.2],[49.3,2.8],[49.8,2.3],[50.3,1.4],[51.4,1],[52.4,0.6],[53.5,0.1],[54.5,-0.4],[55.6,-0.8],[56.6,-1.2],[57.7,-1.5],[58.7,-1],[59.7,-1.2],[60.8,-1.5],[61.8,-1],[62.9,-0.1],[63.6,0.6],[64.1,1.4],[64.6,2.3],[65.3,1.4],[66.3,0.6],[67.4,0.3],[68.4,0.1],[69.5,-0.1],[70.5,-1],[71.6,-2.3],[72.3,-1.8],[73,-1.2],[73.7,-1.2],[74.3,-1.5],[75.4,-2],[76.4,-1.8],[77.3,-0.8],[78,1.2],[78.5,0.6],[79,1.7],[79.6,2.5],[80.3,1.7],[81.3,0.6],[82.3,-0.1],[83.4,-0.8],[84.4,-1.2],[85.5,-1.8],[86.5,-1.5],[87.6,-1.8],[88.6,-1.8],[90,-1.8]];

var qxRed = [[0,-1.5],[0.6,-2],[1.1,-1],[1.5,0.3],[1.8,-0.8],[2.2,0.6],[2.5,-0.4],[2.9,1.2],[3.2,0.9],[3.6,7.6],[3.9,4.9],[4.3,4.4],[4.8,3.3],[5.5,2.3],[6.2,1.2],[6.9,-0.1],[7.6,0.1],[8.3,1.2],[8.6,2.3],[9.1,1.4],[10,0.6],[11.1,-0.1],[12.1,-1.2],[13.1,-3.7],[13.8,-2.9],[14.5,-3.1],[15.2,-4.2],[15.9,-3.7],[16.5,-4.7],[16.8,-9.6],[17.1,-5.8],[17.3,-12.8],[17.7,-6.9],[18,-10.6],[18.4,-3.1],[18.6,2.8],[19.1,2.3],[19.8,1.2],[20.8,1.7],[21.8,1.2],[22.9,0.6],[24.3,-0.1],[25.7,-1],[27.1,-1.8],[28.1,-3.1],[28.6,-6.9],[29.1,-5.3],[29.5,-2],[29.8,1.2],[30.2,8.7],[30.5,2.3],[30.7,-3.1],[31,-13.3],[31.2,1.2],[31.6,4.9],[31.9,-9.5],[32.1,4.9],[32.5,-4.2],[32.8,-2],[33.3,-2.6],[34,-1],[34.7,1.2],[35.4,2.3],[35.9,6],[36.5,4.9],[37.1,3.3],[37.8,1.7],[38.9,0.6],[39.9,-0.4],[41,-1.5],[42,-2],[42.9,-3.1],[43.4,-11.7],[43.8,-6.3],[44.1,1.2],[44.4,11.9],[44.8,9.8],[45.1,16.2],[45.5,8.7],[45.6,0.1],[46.2,0.1],[46.7,-2],[47,-5.8],[47.6,-1],[47.9,1.4],[48.3,-5.8],[48.6,0.1],[49.1,1.2],[49.7,1.7],[49.8,-3.1],[50.2,4.9],[50.7,5.6],[51.2,5.2],[51.7,4.4],[52.4,2.8],[53.5,0.6],[54.5,-0.4],[55.6,-1],[56.4,-2.6],[57,-6.9],[57.5,-8],[58,-6.3],[58.5,-1],[58.9,7.6],[59.2,7.1],[59.6,3.9],[59.9,-8.5],[60.3,-2],[60.8,-6.9],[61.5,-8],[62.2,-6.3],[62.9,-4.2],[63.6,-3.1],[64.1,-1],[64.4,8.7],[64.6,11.9],[65,7.1],[65.5,6.5],[66,4.4],[66.7,2.3],[67.7,0.6],[69.1,-0.8],[70.2,-2],[71.2,-2],[72.3,-1],[73.3,0.6],[73.8,-3.7],[74.3,-5.3],[75,-6.3],[75.7,-9.6],[76.4,-8],[77.1,-4.2],[77.7,-5.8],[78.2,-3.1],[78.7,-2],[79,4.4],[79.2,-4.7],[79.6,12.5],[79.9,7.6],[80.3,11.9],[80.6,5.5],[81.1,4.4],[81.7,2.3],[82.3,0.6],[83.4,-0.8],[84.4,-2],[85.5,-3.7],[86,-2],[86.5,-0.4],[87.2,0.1],[87.9,-1.5],[88.6,-3.1],[89.3,-6.3],[90,-9]];

var timeTicks = [0, 10, 20, 30, 40, 50, 60, 70, 80, 90];
var etaTicks = [-0.2, 0, 0.2];
var uTicks = [-1, 0, 1];
var sscTicks = [0, 20, 40, 60, 80];
var qxTicks = [-10, 0, 10, 20, 30];
var etaLegend = ["-2.2 m", "-0.1 m", "1.34 m"];
var uLegend = ["-3.3 m", "-1 m"];
var sscLegend = ["-3.3 m", "-1 m", "0 m"];
var qxLegend = ["-3.3 m", "-1 m"];

//
// layout
var left = 87, right = 950,
    black = "#000", red = "#ff0000", green = "#00ff00";

var panels = [
  {top: 9, bottom: 150, domain: [-0.2, 0.3], ticks: etaTicks, label: ["η (m)"], width: 1.3,
   bands: [[etaBlack, "#808080", 0.9], [etaRed, red, 0.4], [etaGreen, green, 0.4]],
   lines: [[etaBlack, black], [etaRed, red], [etaGreen, green]], legend: etaLegend},
  {top: 187, bottom: 328, domain: [-1.5, 1.5], ticks: uTicks, label: ["U (m/s)"], width: 1.3, zero: true,
   bands: [[uBlack, "#808080", 0.9], [uRed, red, 0.4]],
   lines: [[uBlack, black], [uRed, red]], legend: uLegend},
  {top: 367, bottom: 507, domain: [0, 80], ticks: sscTicks, label: ["SSC (g/l)"], width: 1.3,
   bands: [[sscBlack, "#808080", 0.9], [sscRed, red, 0.4], [sscGreen, green, 0.4]],
   lines: [[sscBlack, black], [sscRed, red], [sscGreen, green]], legend: sscLegend},
  {top: 544, bottom: 685, domain: [-15, 30], ticks: qxTicks, label: ["Qx (Kg/m", "2", " s)"], width: 2.2, zero: true,
   bands: [],
   lines: [[qxBlack, black], [qxRed, red]], legend: qxLegend}
];

var svg = d3.select("#chart");
var x = d3.scaleLinear().domain([0, 90]).range([left, right]);
var colors = [black, red, green];

panels.forEach(function(p, ndx) {
  var y = d3.scaleLinear().domain(p.domain).range([p.bottom, p.top]),
      g = svg.append("g"),
      clipId = "clip" + ndx;

  svg.append("clipPath").attr("id", clipId).append("rect")
    .attr("x", left).attr("y", p.top)
    .attr("width", right - left).attr("height", p.bottom - p.top);

  // dotted grid (skip the zero row where the dashed blue line sits)
  var grid = g.append("g").attr("stroke", "#000").attr("stroke-width", 1)
    .attr("stroke-dasharray", "1,3");
  grid.selectAll("line.gx").data(timeTicks.slice(1, -1)).enter().append("line")
    .attr("x1", x).attr("x2", x).attr("y1", p.top).attr("y2", p.bottom);
  grid.selectAll("line.gy")
    .data(p.ticks.filter((d) => y(d) > p.top + 1 && y(d) < p.bottom - 1 && !(p.zero && d === 0)))
    .enter().append("line")
    .attr("x1", left).attr("x2", right).attr("y1", y).attr("y2", y);

  var plot = g.append("g").attr("clip-path", "url(#" + clipId + ")");

  // shaded bands
  var area = d3.area().x((d) => x(d[0])).y0((d) => y(d[2])).y1((d) => y(d[3]));
  p.bands.forEach(function(b) {
    plot.append("path").datum(b[0]).attr("d", area)
      .attr("fill", b[1]).attr("fill-opacity", b[2]).attr("stroke", "none");
  });

  if(p.zero) {
    plot.append("line").attr("x1", left).attr("x2", right)
      .attr("y1", y(0)).attr("y2", y(0))
      .attr("stroke", "#3c3cff").attr("stroke-width", 1.3).attr("stroke-dasharray", "12,5");
  }

  var line = d3.line().x((d) => x(d[0])).y((d) => y(d[1]));
  p.lines.forEach(function(l) {
    plot.append("path").datum(l[0]).attr("d", line)
      .attr("fill", "none").attr("stroke", l[1]).attr("stroke-width", p.width)
      .attr("stroke-linejoin", "round");
  });

  // axes, ticks pointing inward
  var fmt = (d) => String(d);
  var axes = [
    [d3.axisBottom(x).tickValues(timeTicks).tickFormat(fmt).tickPadding(13), 0, p.bottom],
    [d3.axisTop(x).tickValues(timeTicks).tickFormat(""), 0, p.top],
    [d3.axisLeft(y).tickValues(p.ticks).tickFormat(fmt).tickPadding(7), left, 0],
    [d3.axisRight(y).tickValues(p.ticks).tickFormat(""), right, 0]
  ];
  axes.forEach(function(a) {
    var ag = g.append("g").attr("transform", "translate(" + a[1] + "," + a[2] + ")")
      .call(a[0].tickSizeInner(-6).tickSizeOuter(0));
    ag.select(".domain").remove();
    ag.selectAll("line").attr("stroke", "#000");
    ag.selectAll("text").attr("fill", "#000")
      .style("font-size", "15px").style("font-family", "'Liberation Sans', Arial, sans-serif");
  });

  g.append("rect").attr("x", left).attr("y", p.top)
    .attr("width", right - left).attr("height", p.bottom - p.top)
    .attr("fill", "none").attr("stroke", "#000").attr("stroke-width", 1);

  // y label
  var lab = g.append("text")
    .attr("transform", "translate(47," + ((p.top + p.bottom) / 2) + ") rotate(-90)")
    .attr("text-anchor", "middle").style("font-size", "18px");
  lab.append("tspan").text(p.label[0]);
  if(p.label.length > 1) {
    lab.append("tspan").attr("dy", -7).style("font-size", "12px").text(p.label[1]);
    lab.append("tspan").attr("dy", 7).text(p.label[2]);
  }

  // legend
  var n = p.legend.length,
      lg = g.append("g").attr("transform", "translate(96," + (p.top + 9) + ")");
  lg.append("rect").attr("width", 117).attr("height", 27 + (n - 1) * 21.5)
    .attr("fill", "#fff").attr("stroke", "#000").attr("stroke-width", 1);
  p.legend.forEach(function(name, i) {
    var ry = 14 + i * 21.5;
    lg.append("line").attr("x1", 10).attr("x2", 61).attr("y1", ry).attr("y2", ry)
      .attr("stroke", colors[i]).attr("stroke-width", p.width);
    lg.append("text").attr("x", 67).attr("y", ry + 5).style("font-size", "14px").text(name);
  });
});

svg.append("text").attr("x", (left + right) / 2).attr("y", 726)
  .attr("text-anchor", "middle").style("font-size", "19px").text("Time (s)");
</script>
</body>
</html>
